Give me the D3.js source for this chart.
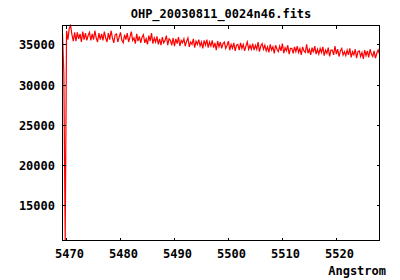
<!DOCTYPE html>
<meta charset="utf-8">
<style>
body{ margin:0; background:#fff; }
text{
	font-family:"DejaVu Sans Mono", monospace;
	font-weight:bold;
	font-size:12px;
	fill:#000;
}
.border{ fill:none; stroke:#000; stroke-width:1px; shape-rendering:crispEdges; }
.tick{ stroke:#000; stroke-width:1px; shape-rendering:crispEdges; }
.spec{ fill:none; stroke:#ff0000; stroke-width:1.2px; }
</style>
<body>
<script src="https://d3js.org/d3.v7.min.js"></script>
<script>

var title = "OHP_20030811_0024n46.fits";
var xLabel = "Angstrom";

// wavelength grid of the spectrum (start, step in Angstrom)
var lambda0 = 5469.35;
var dLambda = 0.25;

// flux values
var flux = [
36300,31400,10650,36700,35600,37000,37350,36200,35400,36500,
35400,36500,35700,36300,35300,36600,35600,36400,35500,36100,
36500,35500,36300,35600,36700,35800,35300,36400,35600,36300,
35500,36600,35800,35300,36400,35600,36700,35800,35200,36200,
36300,35300,35900,36500,35500,35200,36200,35600,36400,35300,
35900,36600,35500,35800,35100,36300,35400,36000,35200,35900,
36200,35200,35700,35000,36100,35400,36400,35100,35800,35300,
36000,35000,35700,34900,35900,35200,35500,36100,34900,35700,
35500,34900,35800,34800,35700,35100,35900,34800,35500,35200,
35700,34800,35400,35800,34700,35300,35000,35700,34600,35400,
35000,35600,34800,35300,34500,35500,34900,35600,34600,35300,
34800,35500,34600,35200,34300,35400,34700,35300,34500,35100,
35300,34500,34900,35400,34300,35000,34500,35200,34200,34900,
35000,34300,35200,34500,35000,34200,34800,35300,34400,34900,
34400,35100,34300,34900,34400,35300,34100,34800,35100,34400,
34900,34200,34700,34000,35000,34300,34700,33900,34900,34400,
34100,34800,34200,35100,33900,34600,34200,34900,33800,34500,
34500,33900,34700,34100,34800,34000,34500,33700,34700,34200,
34000,35000,33900,34400,33700,34600,34000,34800,33800,34400,
33800,34500,34000,34700,33600,34300,33900,34600,33500,34300,
34300,33700,34800,33800,34400,33500,34200,34500,33700,34100,
33600,34300,33700,34500,33400,34100,33700,34400,33300,34100,
34200,33500,34000,33200,34300,33600,34200,33400,34400,33800,
33500,34200,33300,33900,34300,33800
];

var xTicks = [5470,5480,5490,5500,5510,5520];
var yTicks = [15000,20000,25000,30000,35000];

var data = flux.map(function(v,i){ return {x: lambda0 + i*dLambda, y: v}; });

var W = 400, H = 280;
var pL = 62.5, pR = 379.5, pT = 25.5, pB = 240.5;

var svg = d3.select("body").append("svg").attr("width", W).attr("height", H);

var x = d3.scaleLinear().domain(d3.extent(data, d=>d.x)).range([pL, pR]);
var y = d3.scaleLinear().domain(d3.extent(data, d=>d.y)).range([pB, pT]);

// spectrum
svg.append("path").attr("class","spec")
	.attr("d", d3.line().x(d=>x(d.x)).y(d=>y(d.y))(data));

// border
svg.append("rect").attr("class","border")
	.attr("x", pL).attr("y", pT)
	.attr("width", pR-pL).attr("height", pB-pT);

var tl = 3;
// x ticks (mirrored)
xTicks.forEach(function(t){
	var px = Math.round(x(t)) + 0.5;
	svg.append("line").attr("class","tick").attr("x1",px).attr("x2",px).attr("y1",pB).attr("y2",pB-tl);
	svg.append("line").attr("class","tick").attr("x1",px).attr("x2",px).attr("y1",pT).attr("y2",pT+tl);
	svg.append("text").attr("x", px+3).attr("y", 258).attr("text-anchor","middle").text(t);
});
// y ticks (mirrored)
yTicks.forEach(function(t){
	var py = Math.round(y(t)) + 0.5;
	svg.append("line").attr("class","tick").attr("x1",pL).attr("x2",pL+tl).attr("y1",py).attr("y2",py);
	svg.append("line").attr("class","tick").attr("x1",pR).attr("x2",pR-tl).attr("y1",py).attr("y2",py);
	svg.append("text").attr("x", 55).attr("y", py+4).attr("text-anchor","end").text(t);
});

svg.append("text").attr("x", (pL+pR)/2).attr("y", 18).attr("text-anchor","middle").text(title);
svg.append("text").attr("x", 386).attr("y", 275).attr("text-anchor","end").text(xLabel);

</script>
</body>
